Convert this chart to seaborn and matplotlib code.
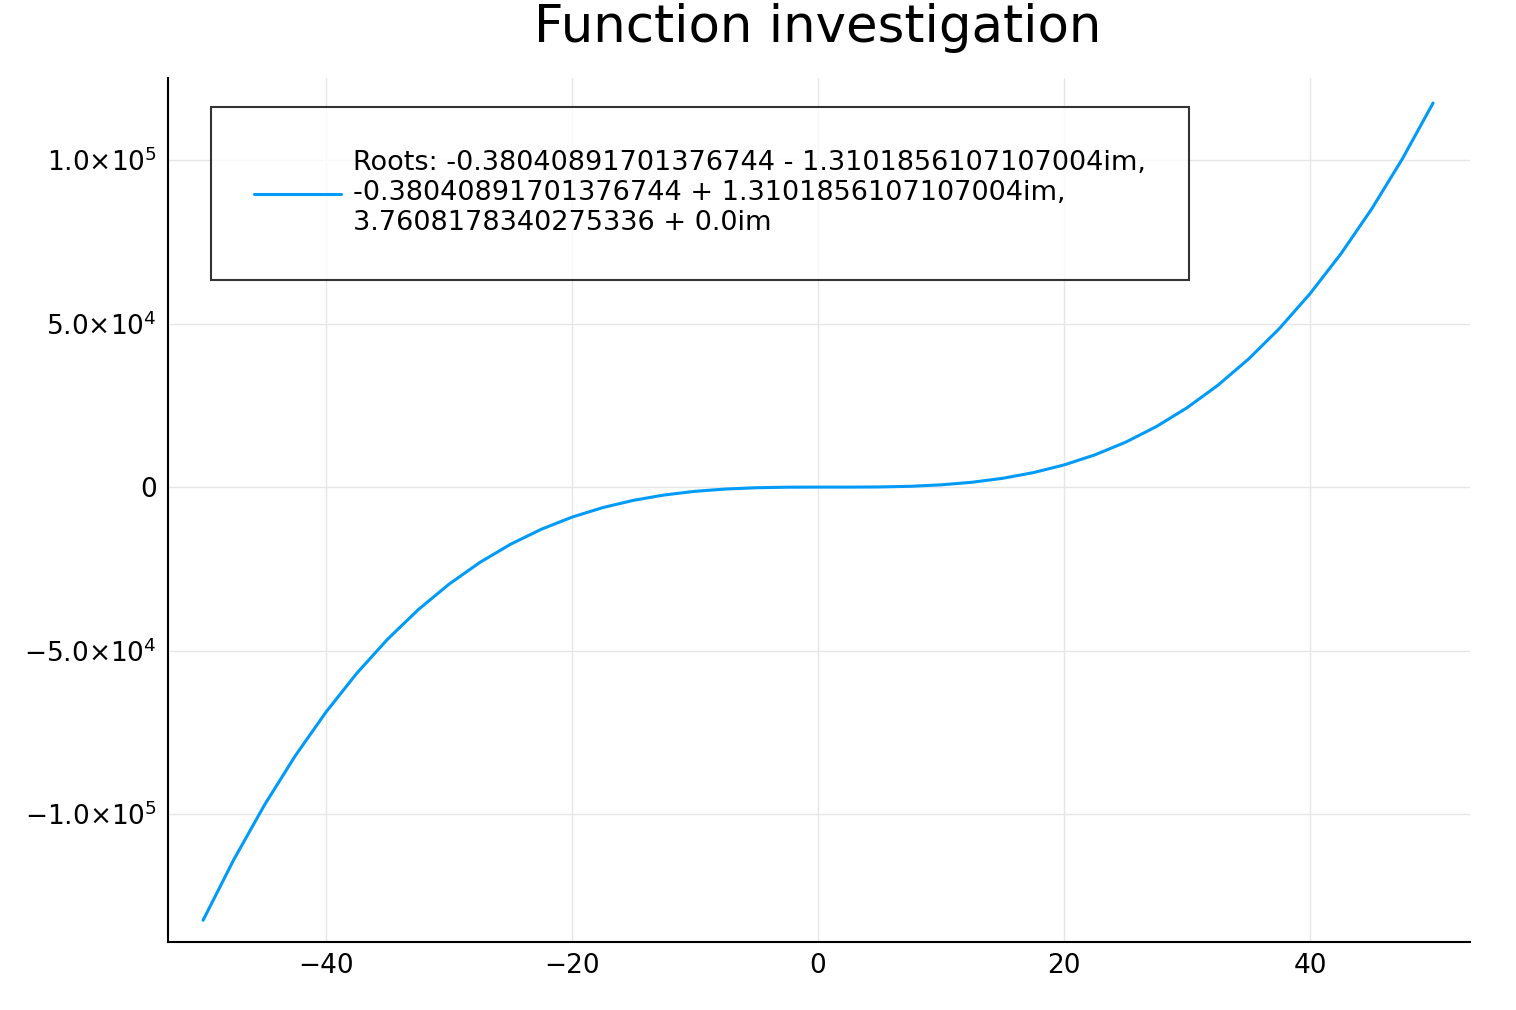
import numpy as np
import pandas as pd
import matplotlib.pyplot as plt
import seaborn as sns

# values
x_vals = [-50, -47.5, -45, -42.5, -40, -37.5, -35, -32.5, -30, -27.5, -25, -22.5,
          -20, -17.5, -15, -12.5, -10, -7.5, -5, -2.5, 0,
          2.5, 5, 7.5, 10, 12.5, 15, 17.5, 20, 22.5, 25, 27.5,
          30, 32.5, 35, 37.5, 40, 42.5, 45, 47.5, 50]
y_vals = [-132457, -113900, -97162, -82149, -68767, -56924, -46522, -37471, -29677, -23045, -17482, -12894,
          -9187, -6268, -4042, -2416, -1297, -590, -202, -39, -7,
          -13, 38, 239, 683, 1465, 2678, 4416, 6773, 9842, 13718, 18494,
          24263, 31120, 39158, 48471, 59153, 71297, 84998, 100349, 117443]
legend_label = ("Roots: -0.38040891701376744 - 1.3101856107107004im,\n"
                "-0.38040891701376744 + 1.3101856107107004im,\n"
                "3.7608178340275336 + 0.0im")
title = "Function investigation"
xticks = [-40, -20, 0, 20, 40]
yticks = [-1e5, -5e4, 0, 5e4, 1e5]
ytick_labels = [r"$-1.0{\times}10^{5}$", r"$-5.0{\times}10^{4}$", "0",
                r"$5.0{\times}10^{4}$", r"$1.0{\times}10^{5}$"]

sns.set_style("white")
plt.rcParams['font.family'] = ['DejaVu Sans']
plt.rcParams['mathtext.fontset'] = 'dejavusans'
plt.rcParams['text.color'] = 'black'

df = pd.DataFrame({"x": x_vals, "y": y_vals})
fig = plt.figure(figsize=(15.16, 10.10), dpi=100)
ax = fig.add_axes([168/1516, 1-942/1010, (1470-168)/1516, (942-78)/1010])
sns.lineplot(data=df, x="x", y="y", ax=ax, color="#009af9", linewidth=2.2, label=legend_label)

ax.set_xlim(-52.85, 53.0)
ax.set_ylim(-1.391e5, 1.2508e5)
ax.set_xticks(xticks)
ax.set_xticklabels([str(t).replace("-", "\u2212") for t in xticks])
ax.set_yticks(yticks)
ax.set_yticklabels(ytick_labels)
ax.tick_params(labelsize=19, length=6, direction="in", width=1.2, colors="black", pad=8)
ax.grid(True, color="#e6e6e6", linewidth=1)
for s in ["top", "right"]:
    ax.spines[s].set_visible(False)
for s in ["left", "bottom"]:
    ax.spines[s].set_linewidth(1.5)
    ax.spines[s].set_color("black")
ax.set_xlabel("")
ax.set_ylabel("")
fig.text(818/1516, 1-28/1010, title, ha="center", va="center", fontsize=37, color="black")

leg = ax.legend(loc="upper left", bbox_to_anchor=((211-168)/1302, (942-107)/864),
                fontsize=19.5, frameon=True, fancybox=False, borderpad=1.6,
                handlelength=3.2, handletextpad=0.45, labelspacing=0.2, borderaxespad=0)
leg.get_frame().set_edgecolor("black")
leg.get_frame().set_linewidth(1.5)
for t in leg.get_texts():
    t.set_color("black")

fig.savefig("out.png", dpi=100)
